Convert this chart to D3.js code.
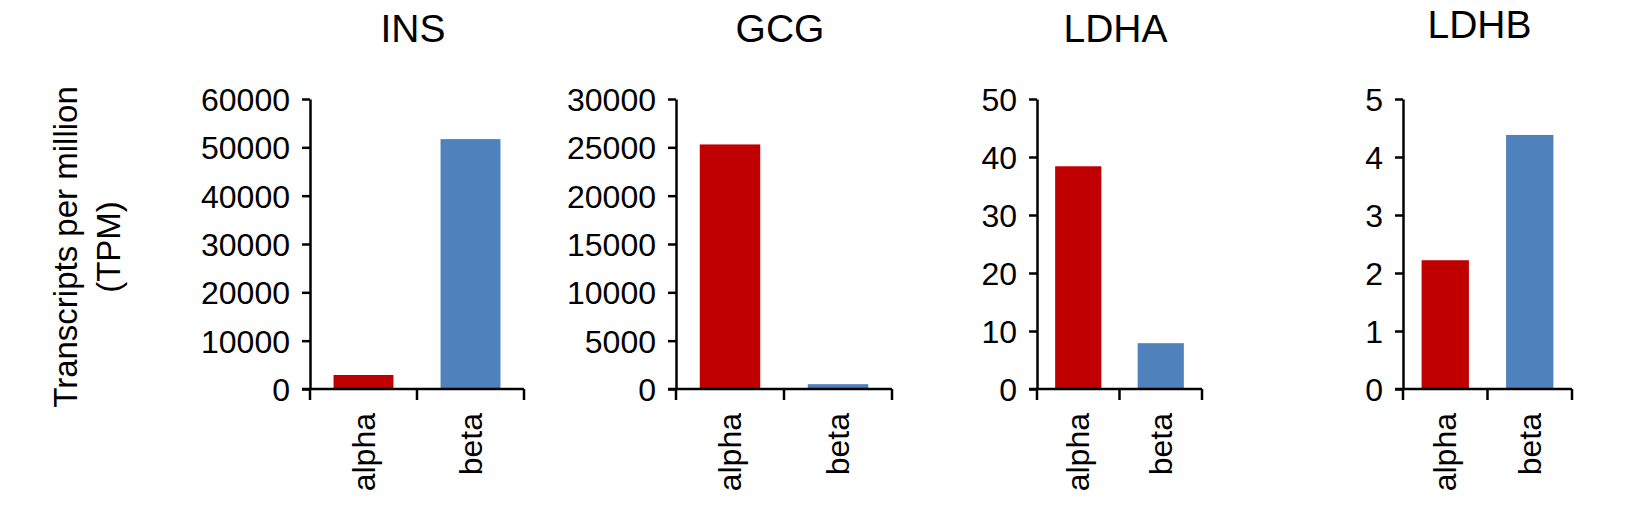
<!DOCTYPE html>
<html><head><meta charset="utf-8">
<script src="https://cdn.jsdelivr.net/npm/d3@7"></script>
<style>body{margin:0;background:#fff}svg{display:block}text{font-family:"Liberation Sans",Arial,sans-serif;fill:#000}</style>
</head><body><svg id="c" width="1649" height="512"></svg>
<script>
const genes = ["INS","GCG","LDHA","LDHB"];
const cellTypes = ["alpha","beta"];
const alphaValues = [2900, 25300, 38.4, 2.22];
const betaValues = [51700, 500, 7.9, 4.38];
const yMax = [60000, 30000, 50, 5];
const yStep = [10000, 5000, 10, 1];
const colors = ["#C00000", "#4F81BD"];
const yLabel = ["Transcripts per million", "(TPM)"];

const svg = d3.select("#c");
const panels = [{x0:310,x1:524,ty:42},{x0:676,x1:892,ty:42},{x0:1037,x1:1202,ty:42},{x0:1403,x1:1572,ty:38}];
const plotTop = 99, base = 389;

genes.forEach((g, i) => {
  const p = panels[i];
  const x = d3.scaleBand().domain(cellTypes).range([p.x0, p.x1]).paddingInner(0.44).paddingOuter(0.22);
  const xb = d3.scaleBand().domain(cellTypes).range([p.x0, p.x1]);
  const y = d3.scaleLinear().domain([0, yMax[i]]).range([base, plotTop]);
  const vals = [alphaValues[i], betaValues[i]];
  const gg = svg.append("g");
  gg.selectAll("rect").data(cellTypes).join("rect")
    .attr("x", d => x(d)).attr("width", x.bandwidth())
    .attr("y", (d, j) => y(vals[j])).attr("height", (d, j) => base - y(vals[j]))
    .attr("fill", (d, j) => colors[j]);
  const yAxis = gg.append("g").attr("transform", `translate(${p.x0},0)`)
    .call(d3.axisLeft(y).tickValues(d3.range(0, yMax[i] + yStep[i] / 2, yStep[i])).tickSize(8).tickSizeOuter(0).tickPadding(12).tickFormat(d3.format("d")));
  yAxis.selectAll("text").style("font-size", "32px").attr("dy", "0.36em");
  yAxis.select(".domain").attr("stroke-width", 2.5);
  yAxis.selectAll(".tick line").attr("stroke-width", 2.5);
  gg.append("line").attr("x1", p.x0 - 8).attr("x2", p.x1).attr("y1", base).attr("y2", base).attr("stroke", "#000").attr("stroke-width", 2.5);
  const bounds = [p.x0, xb(cellTypes[1]), p.x1];
  gg.selectAll("line.bt").data(bounds).join("line").attr("class", "bt")
    .attr("x1", d => d).attr("x2", d => d).attr("y1", base).attr("y2", base + 11)
    .attr("stroke", "#000").attr("stroke-width", 2.5);
  gg.selectAll("text.cat").data(cellTypes).join("text").attr("class", "cat")
    .attr("transform", d => `translate(${x(d) + x.bandwidth() / 2 + 11},${base + 24}) rotate(-90)`)
    .attr("text-anchor", "end").style("font-size", "32px").text(d => d);
  gg.append("text").attr("x", (p.x0 + p.x1) / 2 + (i === 3 ? -8 : -4)).attr("y", p.ty)
    .attr("text-anchor", "middle").style("font-size", "39px").text(g);
});

svg.append("text").attr("transform", "translate(77,247) rotate(-90)").attr("text-anchor", "middle").style("font-size", "33px").text(yLabel[0]);
svg.append("text").attr("transform", "translate(120,247) rotate(-90)").attr("text-anchor", "middle").style("font-size", "33px").text(yLabel[1]);
</script></body></html>
